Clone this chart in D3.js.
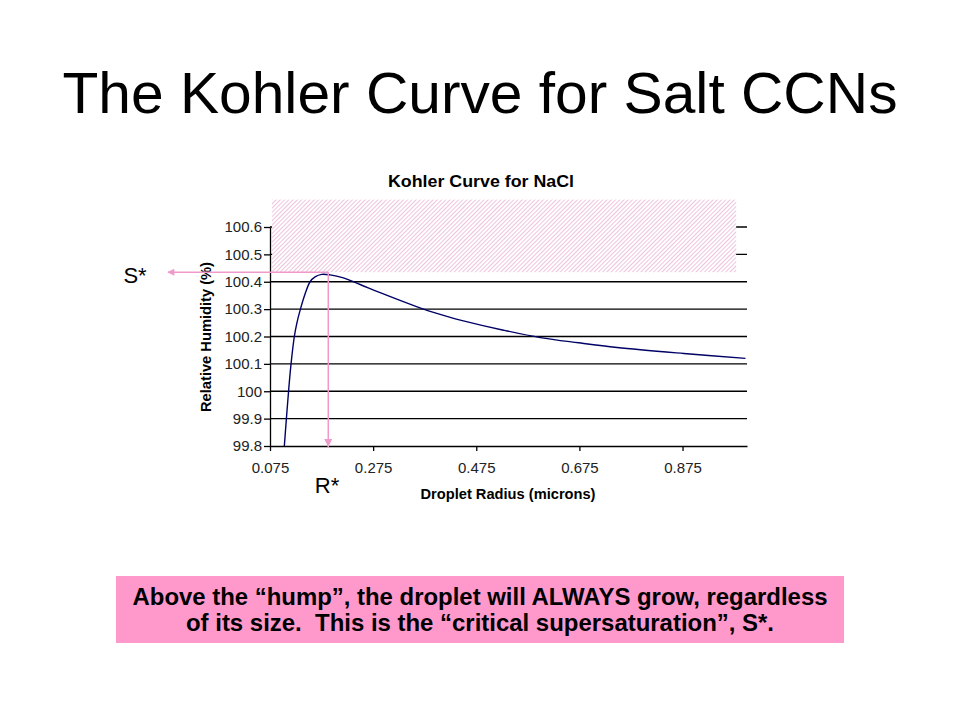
<!DOCTYPE html>
<html>
<head>
<meta charset="utf-8">
<script src="https://cdn.jsdelivr.net/npm/d3@7"></script>
<style>
  html, body { margin: 0; padding: 0; background: #fff; }
  svg { display: block; font-family: "Liberation Sans", Arial, sans-serif; }
</style>
</head>
<body>
<svg id="chart" width="960" height="720"></svg>
<script>
// ---- data ----
const radius = [0.1028, 0.1068, 0.1110, 0.1158, 0.1222, 0.1272, 0.1340, 0.143, 0.1527, 0.1624, 0.1753, 0.1915, 0.2173, 0.2498, 0.2886, 0.3727, 0.4245, 0.444, 0.528, 0.5993, 0.6737, 0.748, 0.8775, 0.997];
const humidity = [99.80, 99.90, 100.00, 100.10, 100.20, 100.25, 100.30, 100.355, 100.40, 100.418, 100.427, 100.425, 100.414, 100.39, 100.36, 100.30, 100.27, 100.26, 100.223, 100.196, 100.177, 100.16, 100.138, 100.12];
const xTicks = [0.075, 0.275, 0.475, 0.675, 0.875];
const yTicks = [99.8, 99.9, 100, 100.1, 100.2, 100.3, 100.4, 100.5, 100.6];
const xDomain = [0.075, 1.0];
const yDomain = [99.8, 100.6];
const sStar = 100.435;   // critical supersaturation (hump level)
const rStar = 0.188;     // critical radius
const hatchX = [0.079, 0.979];
const hatchTop = 100.7;

const pageTitle = "The Kohler Curve for Salt CCNs";
const chartTitle = "Kohler Curve for NaCl";
const xLabel = "Droplet Radius (microns)";
const yLabel = "Relative Humidity (%)";
const captionLines = [
  "Above the \u201chump\u201d, the droplet will ALWAYS grow, regardless",
  "of its size.  This is the \u201ccritical supersaturation\u201d, S*."
];

// ---- drawing ----
const svg = d3.select("#chart");
const x = d3.scaleLinear().domain(xDomain).range([270, 747]);
const y = d3.scaleLinear().domain(yDomain).range([446, 227]);

const pink = "#EF9ACB";

// defs: hatch pattern, arrowheads
const defs = svg.append("defs");
const pat = defs.append("pattern")
  .attr("id", "hatch").attr("patternUnits", "userSpaceOnUse")
  .attr("width", 3).attr("height", 3)
  .attr("patternTransform", "rotate(45)");
pat.append("rect").attr("width", 3).attr("height", 3).attr("fill", "#fff");
pat.append("line").attr("x1", 0).attr("y1", 0).attr("x2", 0).attr("y2", 3)
  .attr("stroke", "#E39BC3").attr("stroke-width", 1.2);

defs.append("marker").attr("id", "arrowL")
  .attr("viewBox", "0 0 10 10").attr("refX", 9).attr("refY", 5)
  .attr("markerWidth", 9).attr("markerHeight", 7).attr("markerUnits", "userSpaceOnUse")
  .attr("orient", "auto")
  .append("path").attr("d", "M0,0 L10,5 L0,10 Z").attr("fill", pink);
defs.append("marker").attr("id", "arrowD")
  .attr("viewBox", "0 0 10 10").attr("refX", 10).attr("refY", 5)
  .attr("markerWidth", 8).attr("markerHeight", 8).attr("markerUnits", "userSpaceOnUse")
  .attr("orient", "auto")
  .append("path").attr("d", "M0,0 L10,5 L0,10 Z").attr("fill", pink);

// page title
svg.append("text").attr("x", 480).attr("y", 113).attr("text-anchor", "middle")
  .attr("font-size", 57).attr("fill", "#000")
  .attr("textLength", 835).attr("lengthAdjust", "spacingAndGlyphs")
  .text(pageTitle);

// chart title
svg.append("text").attr("x", 481).attr("y", 187).attr("text-anchor", "middle")
  .attr("font-size", 17).attr("font-weight", "bold").attr("fill", "#000")
  .attr("textLength", 186).attr("lengthAdjust", "spacingAndGlyphs")
  .text(chartTitle);

// gridlines
svg.append("g").selectAll("line").data(yTicks.filter(d => d > yDomain[0]))
  .join("line")
  .attr("x1", x(xDomain[0])).attr("x2", x(xDomain[1]))
  .attr("y1", d => y(d)).attr("y2", d => y(d))
  .attr("stroke", "#000").attr("stroke-width", 1.3);

// hatched region above the hump
svg.append("rect")
  .attr("x", x(hatchX[0])).attr("y", y(hatchTop))
  .attr("width", x(hatchX[1]) - x(hatchX[0]))
  .attr("height", y(sStar) - y(hatchTop))
  .attr("fill", "url(#hatch)");

// axes
const xAxis = d3.axisBottom(x).tickValues(xTicks).tickSize(5).tickSizeOuter(0)
  .tickFormat(d3.format(".3f"));
const gx = svg.append("g").attr("transform", `translate(0,${y(yDomain[0])})`).call(xAxis);
gx.select(".domain").attr("stroke", "#000").attr("stroke-width", 1.3);
gx.selectAll(".tick line").attr("stroke", "#000").attr("stroke-width", 1.3);
gx.selectAll(".tick text").attr("font-size", 15).attr("font-family", "\"Liberation Sans\", Arial, sans-serif")
  .attr("fill", "#222").attr("dy", "0.71em").attr("y", 16);

const yAxis = d3.axisLeft(y).tickValues(yTicks).tickSize(6).tickSizeOuter(0)
  .tickFormat(d => d3.format("")(+d.toFixed(1)));
const gy = svg.append("g").attr("transform", `translate(${x(xDomain[0])},0)`).call(yAxis);
gy.select(".domain").attr("stroke", "#000").attr("stroke-width", 1.3);
gy.selectAll(".tick line").attr("stroke", "#000").attr("stroke-width", 1.3);
gy.selectAll(".tick text").attr("font-size", 15).attr("font-family", "\"Liberation Sans\", Arial, sans-serif")
  .attr("fill", "#222").attr("x", -8);

// axis titles
svg.append("text").attr("x", 508).attr("y", 499).attr("text-anchor", "middle")
  .attr("font-size", 15).attr("font-weight", "bold").attr("fill", "#000")
  .attr("textLength", 175).attr("lengthAdjust", "spacingAndGlyphs")
  .text(xLabel);
svg.append("text").attr("transform", "translate(211,337) rotate(-90)")
  .attr("text-anchor", "middle")
  .attr("font-size", 14.5).attr("font-weight", "bold").attr("fill", "#000")
  .attr("textLength", 150).attr("lengthAdjust", "spacingAndGlyphs")
  .text(yLabel);

// curve
const line = d3.line().x((d, i) => x(radius[i])).y(d => y(d)).curve(d3.curveCatmullRom.alpha(0.5));
svg.append("path").datum(humidity).attr("d", line)
  .attr("fill", "none").attr("stroke", "#000066").attr("stroke-width", 1.4);

// S* arrow (horizontal) and R* arrow (vertical)
svg.append("line")
  .attr("x1", x(rStar)).attr("y1", y(sStar))
  .attr("x2", 168).attr("y2", y(sStar))
  .attr("stroke", pink).attr("stroke-width", 1.5)
  .attr("marker-end", "url(#arrowL)");
svg.append("line")
  .attr("x1", x(rStar)).attr("y1", y(sStar))
  .attr("x2", x(rStar)).attr("y2", y(yDomain[0]) + 1)
  .attr("stroke", pink).attr("stroke-width", 1.5)
  .attr("marker-end", "url(#arrowD)");

svg.append("text").attr("x", 135).attr("y", 283).attr("text-anchor", "middle")
  .attr("font-size", 22).attr("fill", "#000").text("S*");
svg.append("text").attr("x", 327).attr("y", 493).attr("text-anchor", "middle")
  .attr("font-size", 22).attr("fill", "#000").text("R*");

// caption box
svg.append("rect").attr("x", 116).attr("y", 576).attr("width", 728).attr("height", 67)
  .attr("fill", "#FF99CC");
const capWidths = [695, 588];
svg.append("g").selectAll("text").data(captionLines).join("text")
  .attr("x", 480).attr("y", (d, i) => 605 + i * 26)
  .attr("text-anchor", "middle")
  .attr("font-size", 23).attr("font-weight", "bold").attr("fill", "#000")
  .attr("xml:space", "preserve").style("white-space", "pre")
  .attr("textLength", (d, i) => capWidths[i]).attr("lengthAdjust", "spacingAndGlyphs")
  .text(d => d);
</script>
</body>
</html>
